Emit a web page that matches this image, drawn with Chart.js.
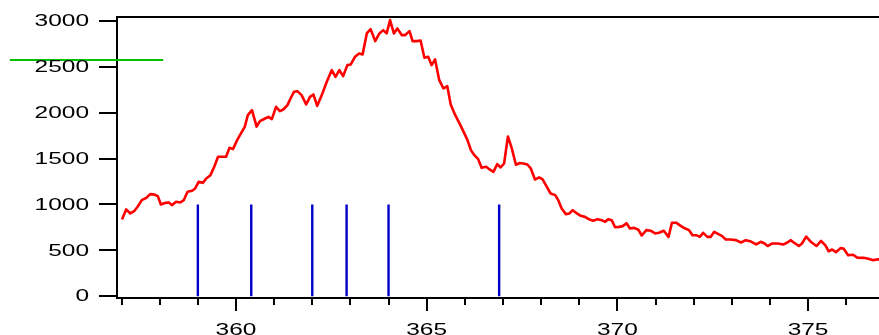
<!DOCTYPE html>
<html>
<head>
<meta charset="utf-8">
<script src="https://cdn.jsdelivr.net/npm/chart.js@4/dist/chart.umd.min.js"></script>
<style>
  html, body { margin: 0; padding: 0; background: #fff; overflow: hidden; }
  #wrap { width: 879px; height: 335px; position: relative; }
</style>
</head>
<body>
<div id="wrap"><canvas id="spectrum" width="879" height="335"></canvas></div>
<script>
// Measured emission spectrum (wavelength in nm, intensity in counts)
const wavelength = [
  357.01, 357.12, 357.23, 357.33, 357.42, 357.53, 357.65, 357.75, 357.86, 357.95,
  358.03, 358.15, 358.24, 358.32, 358.43, 358.54, 358.63, 358.73, 358.85, 358.93,
  359.02, 359.13, 359.22, 359.33, 359.43, 359.53, 359.63, 359.74, 359.83, 359.92,
  360.03, 360.13, 360.23, 360.31, 360.42, 360.54, 360.63, 360.75, 360.85, 360.94,
  361.05, 361.15, 361.24, 361.35, 361.43, 361.52, 361.61, 361.72, 361.84, 361.94,
  362.03, 362.13, 362.25, 362.38, 362.51, 362.61, 362.71, 362.81, 362.92, 363.01,
  363.12, 363.23, 363.32, 363.43, 363.53, 363.65, 363.76, 363.86, 363.95, 364.04,
  364.14, 364.23, 364.35, 364.43, 364.55, 364.63, 364.74, 364.84, 364.94, 365.04,
  365.13, 365.22, 365.33, 365.44, 365.54, 365.63, 365.74, 365.86, 365.96, 366.07,
  366.16, 366.25, 366.35, 366.44, 366.56, 366.64, 366.75, 366.85, 366.94, 367.03,
  367.13, 367.23, 367.34, 367.44, 367.53, 367.64, 367.73, 367.84, 367.95, 368.04,
  368.15, 368.25, 368.37, 368.45, 368.54, 368.65, 368.74, 368.83, 368.94, 369.04,
  369.15, 369.27, 369.37, 369.48, 369.59, 369.68, 369.76, 369.85, 369.94, 370.05,
  370.14, 370.24, 370.33, 370.44, 370.55, 370.64, 370.76, 370.88, 370.99, 371.09,
  371.22, 371.34, 371.43, 371.55, 371.66, 371.78, 371.88, 371.97, 372.07, 372.16,
  372.25, 372.36, 372.45, 372.54, 372.65, 372.75, 372.84, 372.97, 373.11, 373.24,
  373.37, 373.48, 373.64, 373.76, 373.86, 373.94, 374.06, 374.21, 374.35, 374.46,
  374.54, 374.66, 374.76, 374.84, 374.95, 375.08, 375.22, 375.34, 375.45, 375.54,
  375.63, 375.73, 375.85, 375.93, 376.05, 376.18, 376.29, 376.46, 376.58, 376.71,
  376.84, 376.94
];
const intensity = [
   836,  946,  902,  927,  975, 1047, 1073, 1113, 1109, 1091,
  1000, 1018, 1022,  993, 1029, 1022, 1047, 1138, 1149, 1175,
  1247, 1236, 1284, 1320, 1411, 1520, 1520, 1520, 1618, 1604,
  1702, 1775, 1847, 1975, 2029, 1850, 1909, 1935, 1956, 1931,
  2065, 2018, 2036, 2084, 2156, 2229, 2236, 2193, 2091, 2174,
  2200, 2076, 2193, 2338, 2465, 2393, 2465, 2400, 2520, 2527,
  2611, 2647, 2636, 2866, 2913, 2782, 2866, 2902, 2866, 3011,
  2866, 2920, 2847, 2847, 2891, 2782, 2782, 2789, 2600, 2611,
  2520, 2582, 2356, 2265, 2291, 2091, 1982, 1884, 1800, 1702,
  1593, 1538, 1495, 1400, 1411, 1385, 1356, 1440, 1404, 1447,
  1742, 1615, 1433, 1452, 1447, 1436, 1393, 1273, 1295, 1273,
  1193, 1120, 1102, 1047,  957,  895,  902,  938,  902,  876,
   865,  836,  822,  840,  829,  811,  840,  829,  752,  756,
   764,  796,  738,  745,  724,  662,  720,  713,  684,  691,
   713,  645,  800,  800,  767,  738,  720,  665,  665,  647,
   691,  647,  647,  702,  676,  655,  618,  618,  611,  585,
   611,  600,  564,  593,  575,  547,  575,  575,  564,  585,
   611,  575,  547,  575,  650,  590,  547,  602,  556,  490,
   509,  480,  524,  520,  447,  452,  420,  418,  408,  393,
   402,  395
];

// Reference lines (nm) and their drawn height
const refLineWavelength = [359.0, 360.4, 362.0, 362.9, 364.0, 366.9];
const refLineHeight = [1000, 1000, 1000, 1000, 1000, 1000];

// Horizontal threshold marker
const thresholdLevel = 2575;
const thresholdSpan = [354.07, 358.09];

// Axis ticks and labels
const yTicks = [0, 500, 1000, 1500, 2000, 2500, 3000];
const yTickLabels = ['0', '500', '1000', '1500', '2000', '2500', '3000'];
const xMajorTicks = [360, 365, 370, 375];
const xMajorLabels = ['360', '365', '370', '375'];
const xMinorTicks = [357, 358, 359, 360, 361, 362, 363, 364, 365, 366, 367,
                     368, 369, 370, 371, 372, 373, 374, 375, 376];

const X_MIN = 356.88, X_MAX = 376.86;
const Y_MIN = -20, Y_MAX = 3045;

const spectrumPoints = wavelength.map((w, i) => ({ x: w, y: intensity[i] }));
const refPoints = [];
refLineWavelength.forEach((w, i) => {
  refPoints.push({ x: w, y: 0 }, { x: w, y: refLineHeight[i] }, { x: w, y: null });
});
const thresholdPoints = thresholdSpan.map(w => ({ x: w, y: thresholdLevel }));

// Top frame line of the plot box
const frameTop = {
  id: 'frameTop',
  beforeDatasetsDraw(chart) {
    const { ctx, chartArea } = chart;
    ctx.save();
    ctx.strokeStyle = '#000';
    ctx.lineWidth = 2;
    ctx.beginPath();
    ctx.moveTo(chartArea.left, chartArea.top);
    ctx.lineTo(chartArea.right + 2, chartArea.top);
    ctx.stroke();
    ctx.restore();
  }
};

// Wide-set tick labels positioned from the scales
const wideTickLabels = {
  id: 'wideTickLabels',
  afterDraw(chart) {
    const { ctx } = chart;
    const stretch = 1.44;
    ctx.save();
    ctx.fillStyle = '#000';
    ctx.font = '17px "Liberation Sans", Arial, sans-serif';

    const ys = chart.scales.y;
    ctx.textAlign = 'right';
    ctx.textBaseline = 'middle';
    yTicks.forEach((v, i) => {
      const py = ys.getPixelForValue(v);
      ctx.save();
      ctx.translate(ys.right - 28, py + 0.5);
      ctx.scale(stretch, 1);
      ctx.fillText(yTickLabels[i], 0, 0);
      ctx.restore();
    });

    const xs = chart.scales.xMajor;
    ctx.textAlign = 'center';
    ctx.textBaseline = 'alphabetic';
    xMajorTicks.forEach((v, i) => {
      const px = xs.getPixelForValue(v);
      ctx.save();
      ctx.translate(px, chart.chartArea.bottom + 36.5);
      ctx.scale(stretch, 1);
      ctx.fillText(xMajorLabels[i], 0, 0);
      ctx.restore();
    });
    ctx.restore();
  }
};

new Chart(document.getElementById('spectrum'), {
  type: 'line',
  data: {
    datasets: [
      {
        label: 'Spectrum',
        data: spectrumPoints,
        borderColor: '#ff0000',
        borderWidth: 2.6,
        pointRadius: 0,
        tension: 0,
        borderJoinStyle: 'round',
        xAxisID: 'x',
        yAxisID: 'y'
      },
      {
        label: 'Reference lines',
        data: refPoints,
        borderColor: '#0000cc',
        borderWidth: 2.4,
        pointRadius: 0,
        spanGaps: false,
        xAxisID: 'x',
        yAxisID: 'y'
      },
      {
        label: 'Threshold',
        data: thresholdPoints,
        borderColor: '#00c000',
        borderWidth: 2,
        pointRadius: 0,
        clip: false,
        xAxisID: 'x',
        yAxisID: 'y'
      }
    ]
  },
  options: {
    responsive: false,
    animation: false,
    parsing: true,
    layout: { padding: { top: 17, left: 0, right: 0, bottom: 0 } },
    plugins: {
      legend: { display: false },
      tooltip: { enabled: false },
      title: { display: false }
    },
    scales: {
      x: {
        type: 'linear',
        position: 'bottom',
        weight: 0,
        min: X_MIN,
        max: X_MAX,
        afterBuildTicks: s => { s.ticks = xMinorTicks.map(v => ({ value: v })); },
        afterFit: s => { s.height = 0; },
        ticks: { display: false },
        grid: { drawOnChartArea: false, drawTicks: true, tickLength: 7, color: '#000', lineWidth: 2 },
        border: { display: true, color: '#000', width: 2 }
      },
      xMajor: {
        type: 'linear',
        position: 'bottom',
        weight: 1,
        min: X_MIN,
        max: X_MAX,
        afterBuildTicks: s => { s.ticks = xMajorTicks.map(v => ({ value: v })); },
        afterFit: s => { s.height = 37; },
        ticks: { display: false },
        grid: { drawOnChartArea: false, drawTicks: true, tickLength: 13, color: '#000', lineWidth: 2 },
        border: { display: false }
      },
      y: {
        type: 'linear',
        position: 'left',
        min: Y_MIN,
        max: Y_MAX,
        afterBuildTicks: s => { s.ticks = yTicks.map(v => ({ value: v })); },
        afterFit: s => { s.width = 117; },
        ticks: { display: false },
        grid: { drawOnChartArea: false, drawTicks: true, tickLength: 18, color: '#000', lineWidth: 2 },
        border: { display: true, color: '#000', width: 2 }
      }
    }
  },
  plugins: [frameTop, wideTickLabels]
});
</script>
</body>
</html>
